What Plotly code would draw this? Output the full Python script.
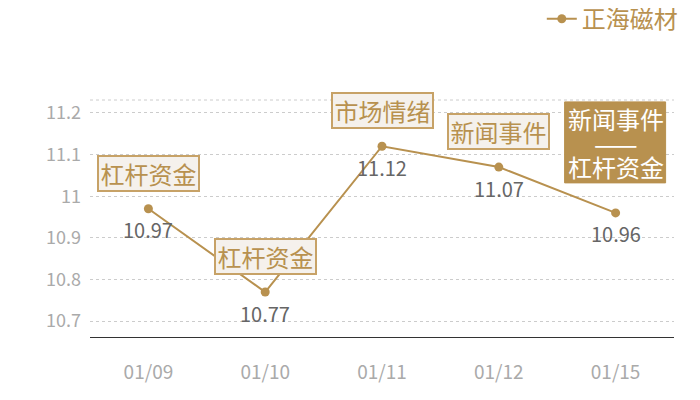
import plotly.graph_objects as go

dates = ["01/09", "01/10", "01/11", "01/12", "01/15"]
prices = [10.97, 10.77, 11.12, 11.07, 10.96]
events = [["杠杆资金"], ["杠杆资金"], ["市场情绪"], ["新闻事件"], ["新闻事件", "——", "杠杆资金"]]
highlight = [False, False, False, False, True]
series_name = "正海磁材"
yticks = [10.7, 10.8, 10.9, 11.0, 11.1, 11.2]
ytick_text = ["10.7", "10.8", "10.9", "11", "11.1", "11.2"]

gold = "#b8914f"
box_fill = "#f5f1ec"
box_line = "#c7a267"
grid_color = "#cccccc"
font_family = "Noto Sans CJK SC"

fig = go.Figure()
fig.add_trace(go.Scatter(
    x=dates, y=prices, mode="lines+markers", name=series_name,
    line=dict(color=gold, width=2),
    marker=dict(color=gold, size=9),
))

annotations = []
shapes = []
for d, p, ev, hl in zip(dates, prices, events, highlight):
    annotations.append(dict(
        x=d, y=p, xref="x", yref="y", text=f"{p:.2f}", showarrow=False,
        yanchor="middle", yshift=-21,
        font=dict(family=font_family, size=20, color="#666666"),
    ))
    if hl:
        shapes.append(dict(
            type="rect", xref="x", yref="y", xsizemode="pixel", ysizemode="pixel",
            xanchor=d, yanchor=p, x0=-51, x1=50, y0=30, y1=111,
            fillcolor=gold, line=dict(color=gold, width=1), layer="above",
        ))
        shifts = [94, 70, 46]
        for line_text, ys in zip(ev, shifts):
            annotations.append(dict(
                x=d, y=p, xref="x", yref="y", text=line_text, showarrow=False,
                yanchor="middle", yshift=ys,
                font=dict(family=font_family, size=26 if line_text == "——" else 24,
                          color="#ffffff"),
            ))
    else:
        annotations.append(dict(
            x=d, y=p, xref="x", yref="y", text=ev[0], showarrow=False,
            yanchor="middle", yshift=35.5,
            width=97, height=31, borderpad=1, borderwidth=2,
            bgcolor=box_fill, bordercolor=box_line,
            font=dict(family=font_family, size=24, color=gold),
        ))

fig.update_layout(
    width=700, height=400,
    margin=dict(l=82, r=34, t=92, b=71),
    paper_bgcolor="white", plot_bgcolor="white",
    font=dict(family=font_family),
    showlegend=True,
    legend=dict(
        orientation="h", x=0.964, xanchor="right", y=0.972, yanchor="middle",
        yref="container", xref="container",
        font=dict(family=font_family, size=24, color=gold),
        bgcolor="rgba(0,0,0,0)",
    ),
    annotations=annotations,
    shapes=shapes,
    xaxis=dict(
        type="category", range=[-0.5, 4.5],
        showgrid=False, showline=True, linecolor="#333333", linewidth=1,
        ticks="", tickfont=dict(family=font_family, size=19, color="#aaaaaa"),
        ticklabelstandoff=18, zeroline=False,
    ),
    yaxis=dict(
        range=[10.662, 11.231],
        tickvals=yticks, ticktext=ytick_text,
        showgrid=True, gridcolor=grid_color, griddash="dot", gridwidth=1,
        showline=False, zeroline=False, ticks="",
        tickfont=dict(family=font_family, size=18, color="#aaaaaa"),
        ticklabelstandoff=8,
    ),
)
fig.add_shape(type="line", xref="paper", yref="paper", x0=0, x1=1, y0=1, y1=1,
              line=dict(color=grid_color, width=1, dash="dot"), layer="below")

fig.write_html("out.html")
